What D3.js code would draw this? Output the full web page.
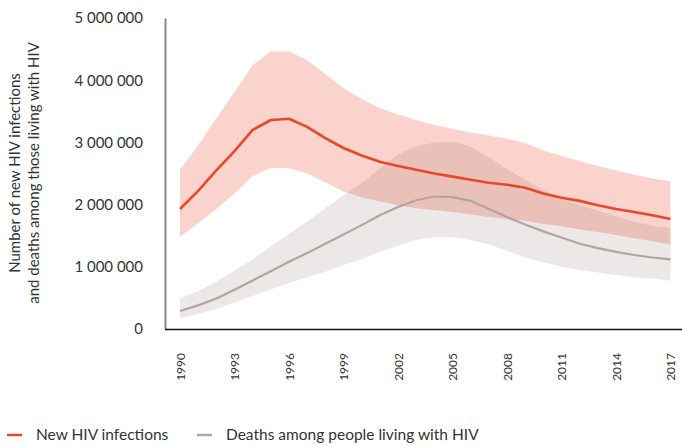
<!DOCTYPE html>
<html>
<head>
<meta charset="utf-8">
<script src="https://cdn.jsdelivr.net/npm/d3@7"></script>
<style>
  html, body { margin: 0; padding: 0; background: #fff; }
  svg text { font-family: Lato, "Open Sans", sans-serif; fill: #333; }
</style>
</head>
<body>
<svg id="chart" width="682" height="445"></svg>
<script>
const years = d3.range(1990, 2018);
const xTickYears = [1990, 1993, 1996, 1999, 2002, 2005, 2008, 2011, 2014, 2017];
const yTicks = [0, 1000000, 2000000, 3000000, 4000000, 5000000];

// New HIV infections (millions)
const newInf = [1.93, 2.22, 2.55, 2.86, 3.20, 3.36, 3.38, 3.25, 3.07, 2.91, 2.79, 2.69, 2.62, 2.56, 2.50, 2.45, 2.40, 2.35, 2.32, 2.27, 2.18, 2.11, 2.06, 1.99, 1.93, 1.88, 1.83, 1.77];
const newInfHigh = [2.56, 2.95, 3.39, 3.81, 4.24, 4.46, 4.46, 4.32, 4.10, 3.87, 3.70, 3.55, 3.45, 3.36, 3.28, 3.22, 3.16, 3.11, 3.06, 2.99, 2.87, 2.78, 2.70, 2.62, 2.55, 2.48, 2.42, 2.37];
const newInfLow = [1.48, 1.70, 1.93, 2.18, 2.46, 2.59, 2.59, 2.50, 2.36, 2.21, 2.12, 2.05, 1.99, 1.94, 1.91, 1.88, 1.84, 1.80, 1.77, 1.74, 1.69, 1.65, 1.60, 1.56, 1.51, 1.46, 1.41, 1.36];

// Deaths among people living with HIV (millions)
const deaths = [0.29, 0.38, 0.49, 0.63, 0.78, 0.93, 1.08, 1.22, 1.37, 1.52, 1.67, 1.83, 1.96, 2.07, 2.13, 2.12, 2.06, 1.93, 1.80, 1.68, 1.57, 1.47, 1.37, 1.30, 1.24, 1.19, 1.15, 1.12];
const deathsHigh = [0.49, 0.61, 0.76, 0.94, 1.12, 1.33, 1.53, 1.73, 1.94, 2.15, 2.34, 2.58, 2.80, 2.94, 3.00, 3.01, 2.93, 2.76, 2.57, 2.40, 2.23, 2.09, 1.99, 1.90, 1.81, 1.72, 1.66, 1.62];
const deathsLow = [0.17, 0.24, 0.32, 0.43, 0.53, 0.64, 0.74, 0.83, 0.92, 1.03, 1.12, 1.24, 1.34, 1.43, 1.48, 1.47, 1.43, 1.36, 1.26, 1.15, 1.07, 1.00, 0.95, 0.91, 0.87, 0.83, 0.81, 0.78];

const legendLabels = ["New HIV infections", "Deaths among people living with HIV"];
const yTitle = ["Number of new HIV infections", "and deaths among those living with HIV"];

const RED = "#e8472a";
const GREY = "#b3a59e";

const svg = d3.select("#chart");
const x = d3.scaleLinear().domain([1990, 2017]).range([180, 670.5]);
const y = d3.scaleLinear().domain([0, 5000000]).range([329, 18]);

const M = 1e6;
const rows = (c, lo, hi) => years.map((yr, i) => ({ yr, c: c[i] * M, lo: lo[i] * M, hi: hi[i] * M }));
const redRows = rows(newInf, newInfLow, newInfHigh);
const greyRows = rows(deaths, deathsLow, deathsHigh);

const area = d3.area().x(d => x(d.yr)).y0(d => y(d.lo)).y1(d => y(d.hi)).curve(d3.curveLinear);
const line = d3.line().x(d => x(d.yr)).y(d => y(d.c)).curve(d3.curveLinear);

svg.append("path").datum(greyRows).attr("d", area).attr("fill", GREY).attr("fill-opacity", 0.25);
svg.append("path").datum(redRows).attr("d", area).attr("fill", RED).attr("fill-opacity", 0.24);
svg.append("path").datum(greyRows).attr("d", line).attr("fill", "none").attr("stroke", GREY).attr("stroke-width", 2.2).attr("stroke-linejoin", "round");
svg.append("path").datum(redRows).attr("d", line).attr("fill", "none").attr("stroke", RED).attr("stroke-width", 2.6).attr("stroke-linejoin", "round");

// Y axis
const fmt = v => d3.format(",")(v).replace(/,/g, " ");
const yAxis = svg.append("g").attr("transform", "translate(165,0)")
  .call(d3.axisLeft(y).tickValues(yTicks).tickFormat(fmt).tickSize(0).tickPadding(22));
yAxis.select(".domain").attr("stroke", "#888").attr("stroke-width", 2);
yAxis.selectAll("text").attr("font-size", 15).style("font-family", "Lato, sans-serif").attr("fill", "#333");

// X axis
const xAxis = svg.append("g").attr("transform", "translate(0,329)")
  .call(d3.axisBottom(x).tickValues(xTickYears).tickFormat(d3.format("d")).tickSize(0));
xAxis.select(".domain").attr("d", "M165,0.5H682").attr("stroke", "#111").attr("stroke-width", 1.4);
xAxis.selectAll("text")
  .attr("font-size", 12)
  .attr("transform", "rotate(-90)")
  .attr("x", -24).attr("y", 0).attr("dy", "0.35em")
  .attr("text-anchor", "end")
  .style("font-family", "Lato, sans-serif").attr("fill", "#333");

// Y title
const yt = svg.append("text").attr("transform", "translate(20,173) rotate(-90)")
  .attr("text-anchor", "middle").attr("font-size", 15);
yt.selectAll("tspan").data(yTitle).join("tspan")
  .attr("x", 0).attr("dy", (d, i) => i === 0 ? 0 : 19).text(d => d);

// Legend
const legend = svg.append("g");
const lx = [7, 197];
const lc = [RED, GREY];
legendLabels.forEach((lab, i) => {
  legend.append("line").attr("x1", lx[i]).attr("x2", lx[i] + 15).attr("y1", 435).attr("y2", 435)
    .attr("stroke", lc[i]).attr("stroke-width", 2.5);
  legend.append("text").attr("x", lx[i] + 29).attr("y", 435).attr("dy", "0.35em")
    .attr("font-size", 15.5).text(lab);
});
</script>
</body>
</html>
